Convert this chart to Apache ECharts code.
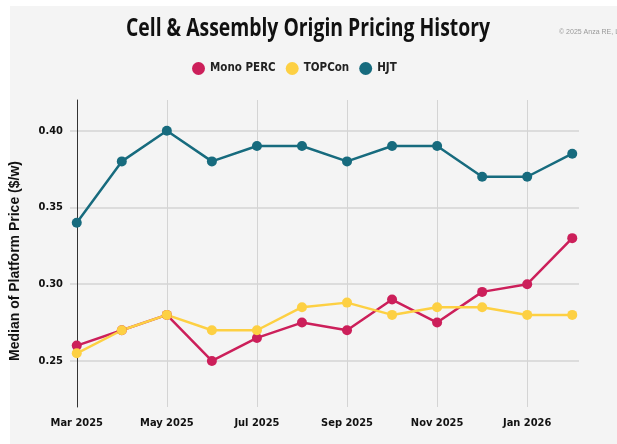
<!DOCTYPE html>
<html>
<head>
<meta charset="utf-8">
<script src="https://cdn.jsdelivr.net/npm/echarts@6/dist/echarts.min.js"></script>
<style>
  html, body { margin: 0; padding: 0; background: #fff; }
  #chart { width: 617px; height: 444px; }
</style>
</head>
<body>
<div id="chart"></div>
<script>
// months, Mar 2025 .. Feb 2026
const months = ["Mar 2025", "Apr 2025", "May 2025", "Jun 2025", "Jul 2025", "Aug 2025",
  "Sep 2025", "Oct 2025", "Nov 2025", "Dec 2025", "Jan 2026", "Feb 2026"];

// median platform price ($/w)
const monoPerc = [0.26, 0.27, 0.28, 0.25, 0.265, 0.275, 0.27, 0.29, 0.275, 0.295, 0.30, 0.33];
const topcon = [0.255, 0.27, 0.28, 0.27, 0.27, 0.285, 0.288, 0.28, 0.285, 0.285, 0.28, 0.28];
const hjt = [0.34, 0.38, 0.40, 0.38, 0.39, 0.39, 0.38, 0.39, 0.39, 0.37, 0.37, 0.385];

const seriesNames = ["Mono PERC", "TOPCon", "HJT"];
const colors = ["#cc1f5a", "#fdd043", "#176b7e"];

const titleText = "Cell & Assembly Origin Pricing History";
const cond = "'DejaVu Sans Condensed', sans-serif";

//标题用宽字体再横向压缩，接近原图的窄体
const titleFont = "bold 25px 'Open Sans', sans-serif";
const ctx = document.createElement("canvas").getContext("2d");
ctx.font = titleFont;
const titleScale = 364 / ctx.measureText(titleText).width;

const toPoints = (arr) => arr.map((v, i) => [i, v]);

const chart = echarts.init(document.getElementById("chart"));

chart.setOption({
  backgroundColor: "#ffffff",
  animation: false,
  color: colors,
  graphic: [
    {
      type: "rect",
      z: -10,
      shape: { x: 10, y: 6, width: 607, height: 438 },
      style: { fill: "#f4f4f4" },
    },
    {
      type: "text",
      x: 308,
      y: 29,
      scaleX: titleScale,
      style: { text: titleText, fill: "#111", font: titleFont, align: "center", verticalAlign: "middle" },
    },
    {
      type: "text",
      x: 559,
      y: 29,
      style: { text: "© 2025 Anza RE, LLC", fill: "#999", font: "7px 'Liberation Sans', sans-serif" },
    },
  ],
  legend: {
    left: 187,
    top: 57,
    icon: "circle",
    itemWidth: 13,
    itemHeight: 13,
    itemGap: 10,
    textStyle: { fontFamily: cond, fontWeight: "bold", fontSize: 11.5, color: "#222" },
    data: seriesNames,
  },
  grid: { left: 69.5, right: 38, top: 100, bottom: 37, containLabel: false },
  xAxis: {
    type: "value",
    min: -0.15,
    max: 11.15,
    splitNumber: 5,
    axisLine: { show: false },
    axisTick: { show: false },
    axisLabel: {
      showMinLabel: false,
      showMaxLabel: false,
      margin: 11,
      fontFamily: cond,
      fontWeight: "bold",
      fontSize: 11,
      color: "#111",
      formatter: (v) => (Number.isInteger(v) ? months[v] : ""),
    },
    splitLine: { show: true, showMinLine: false, showMaxLine: false, lineStyle: { color: "#d4d4d4", width: 1 } },
  },
  yAxis: {
    type: "value",
    min: 0.22,
    max: 0.42,
    splitNumber: 4,
    name: "Median of Platform Price ($/w)",
    nameLocation: "middle",
    nameGap: 48,
    nameTextStyle: { fontFamily: "'Liberation Sans', sans-serif", fontWeight: "bold", fontSize: 14, color: "#111", padding: [0, 0, 0, -15] },
    axisLine: { show: true, lineStyle: { color: "#333", width: 1 } },
    axisTick: { show: false },
    axisLabel: {
      showMinLabel: false,
      showMaxLabel: false,
      margin: 7,
      fontFamily: cond,
      fontWeight: "bold",
      fontSize: 11,
      color: "#111",
      formatter: (v) => v.toFixed(2),
    },
    splitLine: { show: true, showMinLine: false, showMaxLine: false, lineStyle: { color: "#d4d4d4", width: 1.5 } },
  },
  series: [
    { name: seriesNames[0], type: "line", data: toPoints(monoPerc) },
    { name: seriesNames[1], type: "line", data: toPoints(topcon) },
    { name: seriesNames[2], type: "line", data: toPoints(hjt) },
  ].map((s) => ({
    ...s,
    symbol: "circle",
    symbolSize: 10,
    lineStyle: { width: 2.5 },
  })),
});
</script>
</body>
</html>
